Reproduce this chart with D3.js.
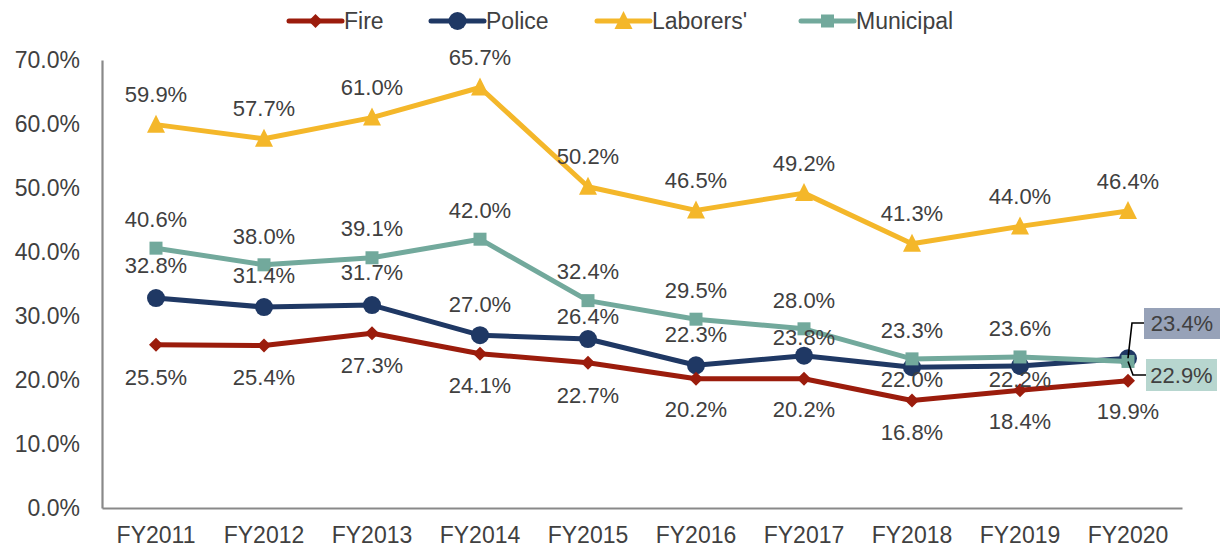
<!DOCTYPE html>
<html><head><meta charset="utf-8">
<script src="https://cdn.jsdelivr.net/npm/d3@7"></script>
<style>body{margin:0;background:#fff}svg{display:block;font-family:"Liberation Sans",Arial,sans-serif}</style>
</head><body><svg id="c" width="1221" height="548"></svg>
<script>
const categories=["FY2011","FY2012","FY2013","FY2014","FY2015","FY2016","FY2017","FY2018","FY2019","FY2020"];
const fire=[25.5,25.4,27.3,24.1,22.7,20.2,20.2,16.8,18.4,19.9];
const police=[32.8,31.4,31.7,27.0,26.4,22.3,23.8,22.0,22.2,23.4];
const laborers=[59.9,57.7,61.0,65.7,50.2,46.5,49.2,41.3,44.0,46.4];
const municipal=[40.6,38.0,39.1,42.0,32.4,29.5,28.0,23.3,23.6,22.9];
const yTicks=[0,10,20,30,40,50,60,70];
const seriesNames=["Fire","Police","Laborers'","Municipal"];

(function(){
const svg=d3.select("#c");
const pLeft=102,pRight=1182,pTop=60,pBottom=508;
const x=d3.scaleBand().domain(categories).range([pLeft,pRight]);
const y=d3.scaleLinear().domain([0,70]).range([pBottom,pTop]);
const cx=d=>x(d)+x.bandwidth()/2;
const txt="#404040";
const FONT="Liberation Sans, Arial, sans-serif";

const ya=svg.append("g").attr("transform",`translate(${pLeft},0)`).call(d3.axisLeft(y).tickValues(yTicks).tickSize(0).tickPadding(22).tickFormat(d=>d.toFixed(1)+"%"));
const xa=svg.append("g").attr("transform",`translate(0,${pBottom})`).call(d3.axisBottom(x).tickSize(0).tickPadding(19));
[ya,xa].forEach(a=>{a.select(".domain").attr("stroke","#898989").attr("stroke-width",2.2);a.selectAll("text").attr("fill",txt).attr("font-size",23).attr("font-family",FONT);});

const series=[
 {name:seriesNames[0],vals:fire,color:"#9B1C0C",shape:"diamond"},
 {name:seriesNames[1],vals:police,color:"#1F3864",shape:"circle"},
 {name:seriesNames[2],vals:laborers,color:"#F4B72A",shape:"triangle"},
 {name:seriesNames[3],vals:municipal,color:"#72A99C",shape:"square"}
];
// label vertical offsets (layout only)
const labelShift=[
 [32,32,32,32,33,31,31,32,31,31],
 [-33,-32,-33,-31,-23,-31,-18,12,13,null],
 [-30,-30,-30,-30,-30,-30,-30,-30,-30,-30],
 [-29,-29,-29,-29,-29,-29,-29,-29,-29,null]
];
function marker(g,shape,color,px,py){
  if(shape==="circle") g.append("circle").attr("cx",px).attr("cy",py).attr("r",9).attr("fill",color);
  else if(shape==="square") g.append("rect").attr("x",px-6.5).attr("y",py-6.5).attr("width",13).attr("height",13).attr("fill",color);
  else if(shape==="diamond") g.append("path").attr("d",`M${px},${py-7}L${px+7},${py}L${px},${py+7}L${px-7},${py}Z`).attr("fill",color);
  else g.append("path").attr("d",`M${px},${py-10}L${px+9},${py+8}L${px-9},${py+8}Z`).attr("fill",color);
}
const line=d3.line().x((d,i)=>cx(categories[i])).y(d=>y(d));
const order=[2,1,3,0];
order.forEach(k=>{
  const s=series[k];
  const g=svg.append("g");
  g.append("path").attr("d",line(s.vals)).attr("fill","none").attr("stroke",s.color).attr("stroke-width",5).attr("stroke-linejoin","round");
  s.vals.forEach((v,i)=>marker(g,s.shape,s.color,cx(categories[i]),y(v)));
});
series.forEach((s,k)=>{
  s.vals.forEach((v,i)=>{
    const dy=labelShift[k][i];
    if(dy===null) return;
    const px=cx(categories[i]),py=y(v);
    svg.append("text").attr("x",px).attr("y",py+dy).attr("text-anchor","middle").attr("dy","0.35em")
      .attr("fill",txt).attr("font-size",22).text(v.toFixed(1)+"%");
  });
});
const lx=cx(categories[9]);
const calls=[{v:police[9],fill:"#97A2B8",bx:1144,by:308,bw:76,bh:31,ly:323,lx2:lx+4},
             {v:municipal[9],fill:"#B7D6CF",bx:1146,by:359,bw:71,bh:32,ly:375,lx2:lx+5}];
calls.forEach(c=>{
  const py=y(c.v);
  svg.append("path").attr("d",`M${lx},${py}L${c.lx2},${c.ly}L${c.bx},${c.ly}`).attr("fill","none").attr("stroke","#000").attr("stroke-width",1.6);
  svg.append("rect").attr("x",c.bx).attr("y",c.by).attr("width",c.bw).attr("height",c.bh).attr("fill",c.fill);
  svg.append("text").attr("x",c.bx+c.bw/2).attr("y",c.by+c.bh/2).attr("text-anchor","middle").attr("dy","0.35em")
    .attr("fill",txt).attr("font-size",22).text(c.v.toFixed(1)+"%");
});
const legX=[289,431,597,801];
series.forEach((s,k)=>{
  const g=svg.append("g");
  g.append("line").attr("x1",legX[k]).attr("x2",legX[k]+53).attr("y1",21).attr("y2",21).attr("stroke",s.color).attr("stroke-width",5).attr("stroke-linecap","round");
  marker(g,s.shape,s.color,legX[k]+26.5,21);
  g.append("text").attr("x",legX[k]+55).attr("y",21).attr("dy","0.35em").attr("fill",txt).attr("font-size",23).text(s.name);
});
})();
</script></body></html>
